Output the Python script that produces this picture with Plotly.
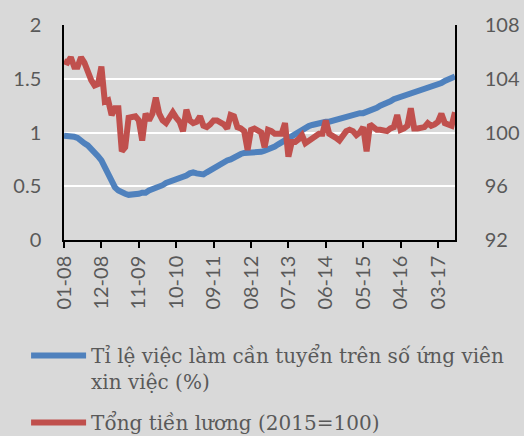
import plotly.graph_objects as go

# Monthly data, 01-2008 .. 08-2017 (116 months)
month_index = list(range(116))

ratio_jobs = [
    0.97, 0.97, 0.96, 0.96, 0.95,
    0.92, 0.90, 0.88, 0.85, 0.82,
    0.78, 0.74, 0.68, 0.60, 0.54,
    0.49, 0.46, 0.44, 0.43, 0.42,
    0.42, 0.43, 0.43, 0.44, 0.44,
    0.46, 0.47, 0.48, 0.50, 0.51,
    0.53, 0.54, 0.55, 0.56, 0.57,
    0.59, 0.60, 0.62, 0.63, 0.62,
    0.62, 0.61, 0.63, 0.65, 0.67,
    0.69, 0.71, 0.73, 0.74, 0.75,
    0.77, 0.79, 0.80, 0.81, 0.81,
    0.81, 0.81, 0.81, 0.82, 0.83,
    0.84, 0.86, 0.87, 0.89, 0.91,
    0.93, 0.95, 0.97, 0.99, 1.01,
    1.03, 1.05, 1.06, 1.07, 1.08,
    1.09, 1.10, 1.10, 1.10, 1.11,
    1.12, 1.13, 1.14, 1.15, 1.15,
    1.16, 1.17, 1.18, 1.18, 1.19,
    1.20, 1.22, 1.23, 1.25, 1.26,
    1.28, 1.29, 1.31, 1.32, 1.34,
    1.35, 1.36, 1.37, 1.38, 1.38,
    1.39, 1.40, 1.41, 1.43, 1.44,
    1.44, 1.46, 1.48, 1.49, 1.51,
    1.52,
]

total_wages = [
    105.3, 105.2, 105.6, 104.9, 104.9, 105.6, 105.2, 104.5, 103.9, 103.5,
    103.6, 104.9, 102.3, 102.4, 101.3, 101.8, 101.8, 98.6, 98.9, 101.1,
    101.2, 101.2, 100.9, 99.4, 101.4, 100.9, 101.4, 102.6, 101.4, 100.9,
    100.7, 101.2, 101.5, 101.1, 100.8, 100.1, 101.7, 100.9, 100.7, 100.8,
    101.2, 100.5, 100.4, 100.6, 100.9, 100.9, 100.8, 100.6, 100.3, 101.3,
    101.2, 100.4, 100.3, 100.1, 98.7, 100.2, 100.3, 100.1, 100.0, 98.9,
    100.2, 100.1, 99.9, 99.9, 99.9, 100.7, 98.2, 99.3, 99.3, 99.5,
    99.8, 99.2, 99.4, 99.6, 99.7, 99.9, 99.9, 100.9, 99.9, 99.8,
    99.6, 99.4, 99.8, 100.1, 100.2, 100.1, 99.8, 100.0, 100.4, 98.6,
    100.6, 100.4, 100.2, 100.2, 100.1, 100.1, 100.3, 100.4, 101.3, 100.2,
    100.3, 100.5, 101.8, 100.3, 100.3, 100.3, 100.4, 100.7, 100.5, 100.6,
    100.8, 101.4, 100.7, 100.6, 100.5, 101.5,
]

tick_positions = [0, 11, 22, 33, 44, 55, 66, 77, 88, 99, 110]
tick_labels = ["01-08", "12-08", "11-09", "10-10", "09-11", "08-12",
               "07-13", "06-14", "05-15", "04-16", "03-17"]

name_ratio = "Tỉ lệ việc làm cần tuyển trên số ứng viên<br>xin việc (%)"
name_wages = "Tổng tiền lương (2015=100)"

BG = "#d9d9d9"
TXT = "#595959"
TICKFONT = dict(family="Lato", size=20, color=TXT)

fig = go.Figure()
fig.add_trace(go.Scatter(
    x=month_index, y=ratio_jobs, mode="lines", name=name_ratio,
    line=dict(color="#4f81bd", width=6), legendgroup="a", yaxis="y",
))
fig.add_trace(go.Scatter(
    x=month_index, y=total_wages, mode="lines", name=name_wages,
    line=dict(color="#c0504d", width=6), legendgroup="b", yaxis="y2",
))

fig.update_layout(
    width=524, height=436,
    margin=dict(l=64, r=69, t=25, b=196, autoexpand=False),
    paper_bgcolor=BG, plot_bgcolor=BG,
    xaxis=dict(
        range=[0, 115], tickmode="array", tickvals=tick_positions,
        ticktext=tick_labels, tickangle=-90, ticks="outside", ticklen=6,
        tickwidth=1.5, tickcolor="black", showline=True, linecolor="black",
        linewidth=1.5, showgrid=False, zeroline=False, tickfont=TICKFONT,
        ticklabelstandoff=0,
    ),
    yaxis=dict(
        range=[0, 2], tickvals=[0, 0.5, 1, 1.5, 2],
        ticktext=["0", "0.5", "1", "1.5", "2"],
        showline=True, linecolor="black", linewidth=1.5,
        showgrid=True, gridcolor="white", gridwidth=1.5, zeroline=False,
        tickfont=TICKFONT, ticks="", ticklabelstandoff=17,
    ),
    yaxis2=dict(
        range=[92, 108], tickvals=[92, 96, 100, 104, 108],
        overlaying="y", side="right",
        showline=True, linecolor="black", linewidth=1.5,
        showgrid=False, zeroline=False, tickfont=TICKFONT, ticks="",
        ticklabelstandoff=24,
    ),
    showlegend=True,
    legend=dict(
        x=-0.097, y=-0.446, xanchor="left", yanchor="top",
        bgcolor="rgba(0,0,0,0)", valign="top",
        traceorder="grouped", tracegroupgap=12, itemwidth=55,
        font=dict(family="DejaVu Serif", size=20, color=TXT),
    ),
)

fig.write_html(
    "out.html",
    config={"displayModeBar": False},
    post_script="document.body.style.margin='0';"
                "document.body.style.background='#d9d9d9';",
)
